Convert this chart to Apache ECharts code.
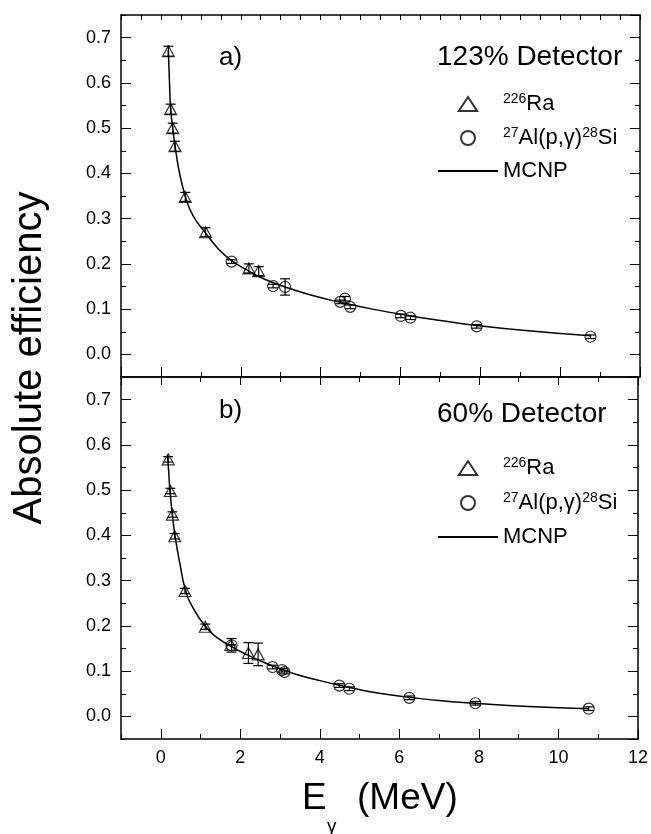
<!DOCTYPE html>
<html><head><meta charset="utf-8">
<script src="https://cdn.jsdelivr.net/npm/echarts@6/dist/echarts.min.js"></script>
<style>html,body{margin:0;padding:0;background:#fff}#c{width:651px;height:834px}</style>
</head><body><div id="c"></div>
<script>
// ---- tick labels ----
const xTickLabels = ['0', '2', '4', '6', '8', '10', '12'];
const yTickLabels = ['0.0', '0.1', '0.2', '0.3', '0.4', '0.5', '0.6', '0.7'];

// ---- panel a) 123% detector ----
const aRaE   = [0.186, 0.242, 0.295, 0.352, 0.609, 1.120, 2.204, 2.448];
const aRaEff = [0.670, 0.542, 0.500, 0.460, 0.348, 0.270, 0.190, 0.184];
const aRaErr = [0.011, 0.011, 0.011, 0.011, 0.010, 0.010, 0.010, 0.010];
const aAlE   = [1.77, 2.81, 3.11, 4.49, 4.61, 4.74, 6.01, 6.25, 7.91, 10.76];
const aAlEff = [0.205, 0.151, 0.149, 0.116, 0.123, 0.105, 0.085, 0.081, 0.062, 0.039];
const aAlErr = [0.004, 0.004, 0.018, 0.004, 0.005, 0.004, 0.004, 0.004, 0.004, 0.004];
const aMcE   = [0.186, 0.215, 0.242, 0.295, 0.352, 0.45, 0.609, 0.80, 1.12, 1.45, 1.77, 2.20, 2.60, 3.11, 3.80, 4.49, 5.30, 6.25, 7.00, 7.91, 9.20, 10.76];
const aMcEff = [0.672, 0.600, 0.545, 0.500, 0.462, 0.408, 0.350, 0.307, 0.268, 0.232, 0.207, 0.184, 0.166, 0.149, 0.130, 0.115, 0.100, 0.085, 0.075, 0.064, 0.052, 0.041];

// ---- panel b) 60% detector ----
const bRaE   = [0.186, 0.242, 0.295, 0.352, 0.609, 1.120, 1.764, 2.204, 2.448];
const bRaEff = [0.568, 0.498, 0.446, 0.398, 0.277, 0.198, 0.158, 0.140, 0.137];
const bRaErr = [0.006, 0.006, 0.006, 0.006, 0.006, 0.006, 0.000, 0.023, 0.025];
const bAlE   = [1.78, 2.81, 3.05, 3.11, 4.49, 4.74, 6.25, 7.91, 10.76];
const bAlEff = [0.157, 0.109, 0.102, 0.098, 0.068, 0.061, 0.041, 0.029, 0.017];
const bAlErr = [0.015, 0.004, 0.004, 0.004, 0.004, 0.004, 0.004, 0.004, 0.004];
const bMcE   = [0.17, 0.20, 0.23, 0.29, 0.36, 0.48, 0.62, 0.81, 1.13, 1.40, 1.80, 2.15, 2.60, 3.10, 3.48, 4.00, 4.49, 5.49, 7.00, 7.91, 9.25, 10.76];
const bMcEff = [0.578, 0.540, 0.500, 0.447, 0.398, 0.338, 0.280, 0.240, 0.198, 0.175, 0.153, 0.137, 0.119, 0.102, 0.091, 0.079, 0.069, 0.051, 0.035, 0.029, 0.022, 0.017];

const FONT = "'Liberation Sans', Arial, Helvetica, sans-serif";
const X_MIN = -1, X_MAX = 12, Y_MIN = -0.05, Y_MAX = 0.75;

function pairs(xs, ys) { return xs.map((x, i) => [x, ys[i]]); }
function errs(xs, ys, es) { return xs.map((x, i) => [x, ys[i] - es[i], ys[i] + es[i]]); }

const chart = echarts.init(document.getElementById('c'), null, { renderer: 'canvas' });

const axLine = { show: true, onZero: false, lineStyle: { color: '#000', width: 1.5 } };
const noLine = { show: false, onZero: false };
const minorTick = { show: true, inside: true, length: 5, lineStyle: { color: '#000', width: 1 } };
const majorTick = len => ({ show: true, inside: true, length: len, lineStyle: { color: '#000', width: 1 } });
function xAx(grid, pos, opts) {
  return Object.assign({
    type: 'value', gridIndex: grid, position: pos, min: X_MIN, max: X_MAX,
    splitLine: { show: false }, axisLabel: { show: false }, axisLine: noLine, axisTick: minorTick
  }, opts);
}
function yAx(grid, pos, opts) {
  return Object.assign({
    type: 'value', gridIndex: grid, position: pos, min: Y_MIN, max: Y_MAX,
    splitLine: { show: false }, axisLabel: { show: false }, axisLine: noLine, axisTick: minorTick
  }, opts);
}

const xAxes = [
  // grid 0
  xAx(0, 'bottom', { minInterval: 2, maxInterval: 2, axisLine: axLine, axisTick: majorTick(10) }), // 0
  xAx(0, 'bottom', { interval: 1 }),                                                               // 1
  xAx(0, 'top', { interval: 0.5, axisLine: axLine }),                                               // 2
  // grid 1
  xAx(1, 'bottom', { minInterval: 2, maxInterval: 2, axisLine: axLine, axisTick: majorTick(10),
    axisLabel: { show: true, showMinLabel: false, showMaxLabel: true, margin: 10, color: '#000',
      fontSize: 18, fontFamily: FONT,
      formatter: v => { const s = String(Math.round(v)); return xTickLabels.includes(s) ? s : ''; } } }), // 3
  xAx(1, 'bottom', { interval: 1 }),                                                               // 4
  xAx(1, 'top', { minInterval: 2, maxInterval: 2, axisLine: axLine, axisTick: majorTick(8) }),     // 5
  xAx(1, 'top', { interval: 1 })                                                                   // 6
];
function yMajorLeft(grid) {
  return yAx(grid, 'left', { minInterval: 0.1, maxInterval: 0.1, axisLine: axLine, axisTick: majorTick(10),
    axisLabel: { show: true, showMinLabel: false, showMaxLabel: false, margin: 10, color: '#000',
      fontSize: 18, fontFamily: FONT,
      formatter: v => { const s = (Math.abs(v) < 1e-9 ? 0 : v).toFixed(1); return yTickLabels.includes(s) ? s : ''; } } });
}
const yAxes = [
  yMajorLeft(0),                                                                         // 0
  yAx(0, 'left', { interval: 0.05 }),                                                   // 1
  yAx(0, 'right', { minInterval: 0.1, maxInterval: 0.1, axisLine: axLine, axisTick: majorTick(10) }), // 2
  yAx(0, 'right', { interval: 0.05 }),                                                  // 3
  yMajorLeft(1),                                                                         // 4
  yAx(1, 'left', { interval: 0.05 }),                                                   // 5
  yAx(1, 'right', { minInterval: 0.1, maxInterval: 0.1, axisLine: axLine, axisTick: majorTick(10) }), // 6
  yAx(1, 'right', { interval: 0.05 })                                                   // 7
];

function errorSeries(xi, yi, data) {
  return {
    type: 'custom', xAxisIndex: xi, yAxisIndex: yi, data: data, silent: true, z: 3,
    renderItem: (params, api) => {
      const x = api.value(0), lo = api.value(1), hi = api.value(2);
      const p1 = api.coord([x, lo]), p2 = api.coord([x, hi]);
      const w = 5;
      const st = { stroke: '#000', lineWidth: 1.2 };
      return { type: 'group', children: [
        { type: 'line', shape: { x1: p1[0], y1: p1[1], x2: p2[0], y2: p2[1] }, style: st },
        { type: 'line', shape: { x1: p1[0] - w, y1: p1[1], x2: p1[0] + w, y2: p1[1] }, style: st },
        { type: 'line', shape: { x1: p2[0] - w, y1: p2[1], x2: p2[0] + w, y2: p2[1] }, style: st }
      ] };
    }
  };
}
const hollow = { color: 'rgba(255,255,255,0)', borderColor: '#000', borderWidth: 1.2 };
function panelSeries(xi, yi, raE, raEff, raErr, alE, alEff, alErr, mcE, mcEff) {
  return [
    { name: 'MCNP', type: 'line', xAxisIndex: xi, yAxisIndex: yi, data: pairs(mcE, mcEff),
      smooth: 0.5, symbol: 'none', lineStyle: { color: '#000', width: 1.5 },
      itemStyle: { color: 'rgba(0,0,0,0)', borderWidth: 0 }, z: 2 },
    errorSeries(xi, yi, errs(raE, raEff, raErr)),
    errorSeries(xi, yi, errs(alE, alEff, alErr)),
    { name: '226Ra', type: 'scatter', xAxisIndex: xi, yAxisIndex: yi, data: pairs(raE, raEff),
      symbol: 'triangle', symbolSize: [12, 11], itemStyle: hollow, z: 4 },
    { name: 'Al', type: 'scatter', xAxisIndex: xi, yAxisIndex: yi, data: pairs(alE, alEff),
      symbol: 'circle', symbolSize: 11, itemStyle: hollow, z: 4 }
  ];
}

const legendRich = {
  t: { fontSize: 22, fontFamily: FONT, color: '#000', lineHeight: 24 },
  s: { fontSize: 14, fontFamily: FONT, color: '#000', lineHeight: 14, verticalAlign: 'top' }
};
function legendAt(top, gap) {
  return {
    orient: 'vertical', left: 437, top: top, itemWidth: 60, itemHeight: 14, itemGap: gap,
    selectedMode: false, padding: 0, symbolKeepAspect: true,
    data: [{ name: '226Ra', icon: 'path://M8.5,0 L17,13 L0,13 Z' }, { name: 'Al', icon: 'circle' }, { name: 'MCNP' }],
    formatter: n => n === '226Ra' ? '{s|226}{t|Ra}' : n === 'Al' ? '{s|27}{t|Al(p,γ)}{s|28}{t|Si}' : '{t|MCNP}',
    textStyle: { rich: legendRich, fontFamily: FONT }
  };
}

function txt(text, x, y, size, align, valign, extra) {
  return Object.assign({ type: 'text', x: x, y: y, silent: true, z: 10,
    style: { text: text, fontSize: size, fontFamily: FONT, fill: '#000',
      textAlign: align, textVerticalAlign: valign, align: align, verticalAlign: valign } }, extra || {});
}

chart.setOption({
  animation: false,
  backgroundColor: '#fff',
  grid: [
    { left: 121, top: 15, width: 519, height: 362, containLabel: false },
    { left: 121, top: 377, width: 519, height: 362, containLabel: false }
  ],
  xAxis: xAxes,
  yAxis: yAxes,
  legend: [legendAt(92, 11), legendAt(456, 12)],
  series: [].concat(
    panelSeries(0, 0, aRaE, aRaEff, aRaErr, aAlE, aAlEff, aAlErr, aMcE, aMcEff),
    panelSeries(3, 4, bRaE, bRaEff, bRaErr, bAlE, bAlEff, bAlErr, bMcE, bMcEff)
  ),
  graphic: [
    txt('a)', 219, 58, 26, 'left', 'middle'),
    txt('b)', 219, 411, 26, 'left', 'middle'),
    txt('123% Detector', 437, 57, 28, 'left', 'middle'),
    txt('60% Detector', 437, 414, 28, 'left', 'middle'),
    txt('Absolute efficiency', 30, 358, 40, 'center', 'middle', { rotation: Math.PI / 2 }),
    txt('E', 302, 817, 37, 'left', 'bottom'),
    txt('γ', 327, 827, 19, 'left', 'middle'),
    txt('(MeV)', 357, 817, 37, 'left', 'bottom')
  ]
});
</script></body></html>
